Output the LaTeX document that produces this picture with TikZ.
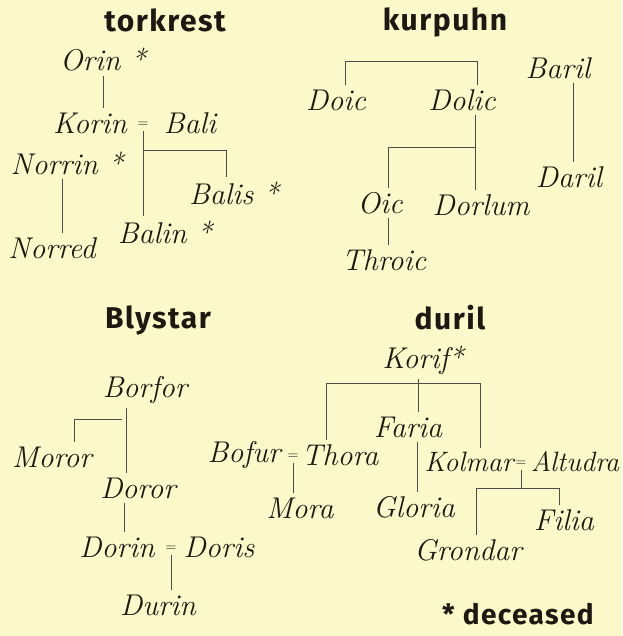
\documentclass[tikz,border=0pt]{standalone}
\usepackage{fontspec}
\newfontfamily\headfont{Fira Sans}[LetterSpace=5]
\definecolor{parchment}{RGB}{251,249,201}
\definecolor{ink}{RGB}{28,24,18}

\begin{document}
\begin{tikzpicture}[x=1pt,y=-1pt,
  nm/.style={font=\fontsize{30}{34}\selectfont\itshape,text=ink,inner sep=4pt},
  nmsmall/.style={nm,font=\fontsize{28}{32}\selectfont\itshape},
  eqs/.style={font=\fontsize{15}{18}\selectfont,text=ink,inner sep=3pt},
  hd/.style={font=\headfont\fontsize{30}{34}\selectfont\bfseries,text=ink},
  ln/.style={line width=0.6pt,draw=black!70}]
  \fill[parchment] (0,0) rectangle (622,636);
  \useasboundingbox (0,0) rectangle (622,636);

  \node[hd] (torkrest) at (165,20){torkrest};
  \node[nm] (orin) at (103,60){Orin *};
  \node[nm] (korin) at (90,123){Korin};
  \node[eqs] (kbeq) at (143,125){=};
  \node[nm] (bali) at (190,123){Bali};
  \node[nm] (norrin) at (67,163){Norrin *};
  \node[nm] (norred) at (52,248){Norred};
  \node[nm] (balis) at (234,193){Balis *};
  \node[nm] (balin) at (165,232){Balin *};
  \coordinate (tbar) at (0,150);
  \draw[ln] (orin.south) -- (orin.south |- korin.north);
  \draw[ln] ([xshift=-5pt]norrin.south) -- ([xshift=-5pt]norrin.south |- norred.north);
  \draw[ln] (kbeq.south) -- (kbeq.south |- balin.north);
  \draw[ln] (kbeq.south |- tbar) -| ([xshift=-8pt]balis.north);

  \node[hd] (kurpuhn) at (445,22){kurpuhn};
  \node[nm] (doic) at (336,100){Doic};
  \node[nm] (dolic) at (462,100){Dolic};
  \node[nm] (oic) at (380,203){Oic};
  \node[nm] (dorlum) at (481,205){Dorlum};
  \node[nm] (throic) at (384,260){Throic};
  \node[nm] (baril) at (558,68){Baril};
  \node[nm] (daril) at (569,177){Daril};
  \coordinate (kbar) at (0,61);
  \coordinate (obar) at (0,147);
  \draw[ln] ([xshift=9pt]doic.north) |- ([xshift=15pt]dolic.north |- kbar) -- ([xshift=15pt]dolic.north);
  \draw[ln] ([xshift=13pt]dolic.south) -- ([xshift=13pt]dolic.south |- dorlum.north);
  \draw[ln] ([xshift=13pt]dolic.south |- obar) -| ([xshift=8pt]oic.north);
  \draw[ln] ([xshift=8pt]oic.south) -- ([xshift=8pt]oic.south |- throic.north);
  \draw[ln] ([xshift=15pt]baril.south) -- ([xshift=15pt]baril.south |- daril.north);

  \node[hd] (blystar) at (158,320){Blystar};
  \node[nm] (borfor) at (145,390){Borfor};
  \node[nm] (moror) at (52,457){Moror};
  \node[nm] (doror) at (138,488){Doror};
  \node[nm] (dorin) at (117,547){Dorin};
  \node[eqs] (ddeq) at (171,549){=};
  \node[nm] (doris) at (219,547){Doris};
  \node[nm] (durin) at (158,605){Durin};
  \coordinate (bbar) at (0,419);
  \draw[ln] ([xshift=-19pt]borfor.south) -- ([xshift=-19pt]borfor.south |- doror.north);
  \draw[ln] ([xshift=-23pt]borfor.south |- bbar) -| ([xshift=22pt]moror.north);
  \draw[ln] ([xshift=-14pt]doror.south) -- ([xshift=-14pt]doror.south |- dorin.north);
  \draw[ln] (ddeq.south) -- (ddeq.south |- durin.north);

  \node[hd] (duril) at (450,318){duril};
  \node[nm] (korif) at (423,360){Korif*};
  \node[nm] (faria) at (408,427){Faria};
  \node[nm] (bofur) at (244,455){Bofur};
  \node[eqs] (bteq) at (293,457){=};
  \node[nm] (thora) at (340,455){Thora};
  \node[nm] (mora) at (300,508){Mora};
  \node[nm] (gloria) at (414,507){Gloria};
  \node[nmsmall] (kolmar) at (469,462){Kolmar};
  \node[eqs] (kaeq) at (521,464){=};
  \node[nmsmall] (altudra) at (575,462){Altudra};
  \node[nm] (filia) at (564,520){Filia};
  \node[nm] (grondar) at (468,550){Grondar};
  \node[hd,font=\headfont\fontsize{28}{32}\selectfont\bfseries] (deceased) at (518,614){* deceased};
  \coordinate (dbar) at (0,383);
  \coordinate (gbar) at (0,488);
  \draw[ln] ([xshift=-5pt]korif.south) -- ([xshift=-5pt]korif.south |- faria.north);
  \draw[ln] ([xshift=-14pt]thora.north) |- ([xshift=11pt]kolmar.north |- dbar) -- ([xshift=11pt]kolmar.north);
  \draw[ln] ([xshift=9pt]faria.south) -- ([xshift=9pt]faria.south |- gloria.north);
  \draw[ln] (bteq.south) -- (bteq.south |- mora.north);
  \draw[ln] (kaeq.south) -- (kaeq.south |- gbar);
  \draw[ln] ([xshift=8pt]grondar.north) |- ([xshift=-5pt]filia.north |- gbar) -- ([xshift=-5pt]filia.north);
\end{tikzpicture}
\end{document}
